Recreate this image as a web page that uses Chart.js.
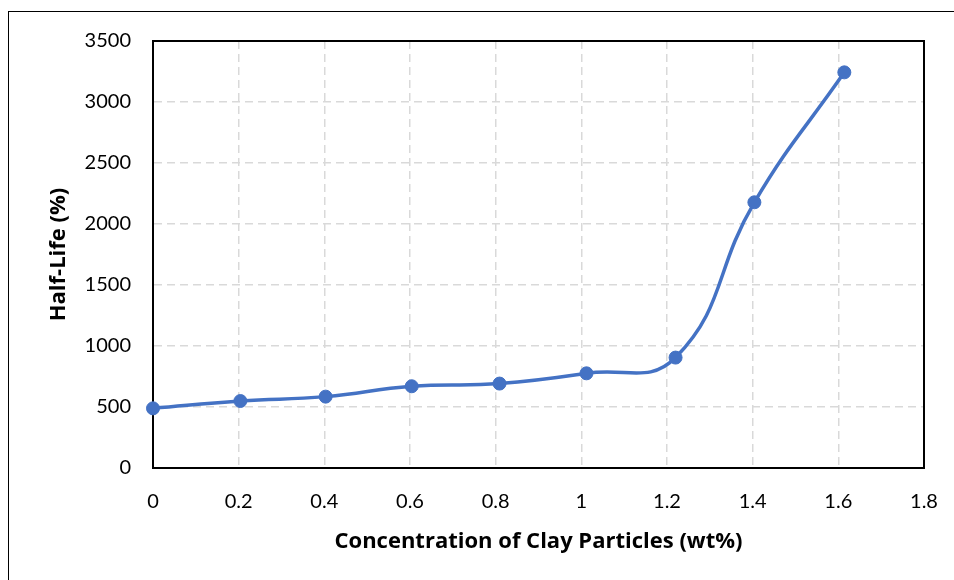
<!DOCTYPE html>
<html>
<head>
<meta charset="utf-8">
<script src="https://cdn.jsdelivr.net/npm/chart.js@4"></script>
<style>
  html, body { margin: 0; padding: 0; background: #fff; }
  #wrap { width: 954px; height: 580px; position: relative; }
</style>
</head>
<body>
<div id="wrap"><canvas id="c" width="954" height="580"></canvas></div>
<script>
// Clay particle concentration (wt%) and measured half-life
const concentration = [0, 0.204, 0.403, 0.604, 0.809, 1.012, 1.220, 1.404, 1.614];
const halfLife = [489, 549, 585, 670, 692, 776, 905, 2178, 3243];

// Axis ticks
const xTickValues = [0, 0.2, 0.4, 0.6, 0.8, 1, 1.2, 1.4, 1.6, 1.8];
const xTickLabels = ['0', '0.2', '0.4', '0.6', '0.8', '1', '1.2', '1.4', '1.6', '1.8'];
const yTickValues = [0, 500, 1000, 1500, 2000, 2500, 3000, 3500];
const yTickLabels = ['0', '500', '1000', '1500', '2000', '2500', '3000', '3500'];

const xTitle = 'Concentration of Clay Particles (wt%)';
const yTitle = 'Half-Life (%)';

const lineColor = '#4472C4';
const gridColor = '#d9d9d9';
const tickFont = { family: 'Lato, "Open Sans", sans-serif', size: 20 };
const titleFont = { family: '"Open Sans", Lato, sans-serif', size: 22, weight: 'bold' };

// Frame around the plot area plus the outer chart border
const framePlugin = {
  id: 'frame',
  beforeDatasetsDraw(chart) {
    const { ctx, chartArea: a } = chart;
    ctx.save();
    ctx.strokeStyle = '#000';
    ctx.lineWidth = 2;
    ctx.strokeRect(a.left, a.top, a.right - a.left, a.bottom - a.top);
    ctx.restore();
  },
  beforeDraw(chart) {
    const { ctx } = chart;
    ctx.save();
    ctx.fillStyle = '#fff';
    ctx.fillRect(0, 0, chart.width, chart.height);
    ctx.strokeStyle = '#000';
    ctx.lineWidth = 1;
    ctx.strokeRect(8.5, 11.5, chart.width + 20, chart.height + 20);
    ctx.restore();
  }
};

new Chart(document.getElementById('c'), {
  type: 'line',
  data: {
    datasets: [{
      data: concentration.map((x, i) => ({ x, y: halfLife[i] })),
      borderColor: lineColor,
      backgroundColor: lineColor,
      borderWidth: 3.5,
      pointRadius: 6.5,
      pointBorderWidth: 1,
      pointBackgroundColor: lineColor,
      pointBorderColor: lineColor,
      tension: 0.45,
      fill: false,
      clip: false
    }]
  },
  options: {
    responsive: false,
    animation: false,
    events: [],
    layout: { padding: { top: 41, right: 30, left: 0, bottom: 0 } },
    plugins: { legend: { display: false }, tooltip: { enabled: false } },
    scales: {
      x: {
        type: 'linear',
        min: 0,
        max: 1.8,
        afterFit(scale) {
          scale.height = 112;
          scale.paddingLeft = 0;
          scale.paddingRight = 0;
        },
        afterBuildTicks(scale) { scale.ticks = xTickValues.map(v => ({ value: v })); },
        ticks: {
          color: '#000',
          font: tickFont,
          padding: 22,
          maxRotation: 0,
          autoSkip: false,
          callback: (v, i) => xTickLabels[i]
        },
        grid: { color: gridColor, lineWidth: 1.5, drawTicks: false },
        border: { display: true, color: '#000', width: 2, dash: [8, 5] },
        title: { display: true, text: xTitle, color: '#000', font: titleFont, padding: { top: 0, bottom: 25 } }
      },
      y: {
        type: 'linear',
        min: 0,
        max: 3500,
        afterFit(scale) {
          scale.width = 153;
          scale.paddingTop = 0;
          scale.paddingBottom = 0;
        },
        afterBuildTicks(scale) { scale.ticks = yTickValues.map(v => ({ value: v })); },
        ticks: {
          color: '#000',
          font: tickFont,
          padding: 22,
          autoSkip: false,
          callback: (v, i) => yTickLabels[i]
        },
        grid: { color: gridColor, lineWidth: 1.5, drawTicks: false },
        border: { display: true, color: '#000', width: 2, dash: [8, 5] },
        title: { display: true, text: yTitle, color: '#000', font: titleFont, padding: { top: 46, bottom: 0 } }
      }
    }
  },
  plugins: [framePlugin]
});
</script>
</body>
</html>
